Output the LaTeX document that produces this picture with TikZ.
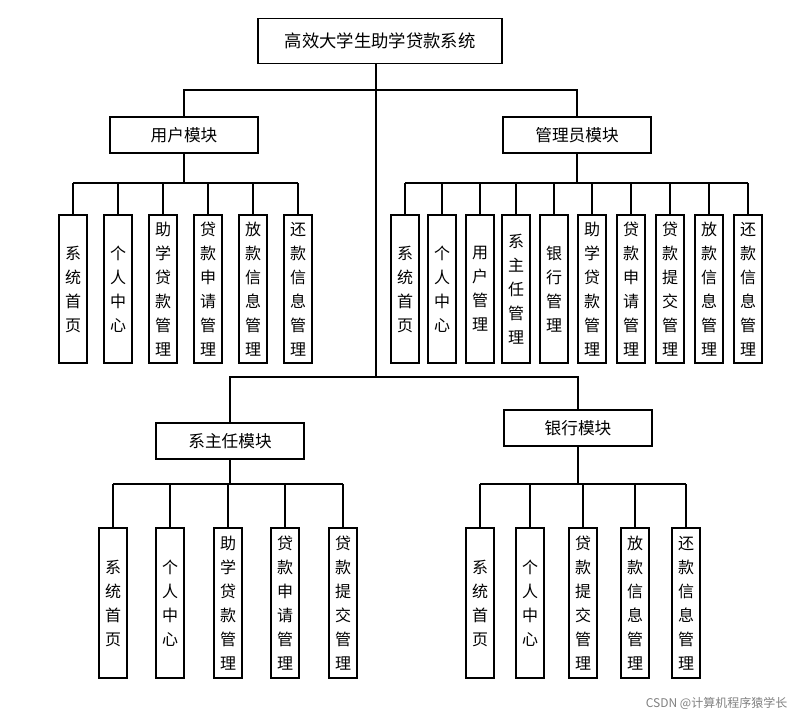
\documentclass[tikz,border=0pt]{standalone}
\usepackage{fontspec}
\newfontfamily\cjk{Noto Sans CJK SC}
\begin{document}
\begin{tikzpicture}[x=0.75pt,y=-0.75pt,
  every node/.style={font=\cjk},
  hb/.style={draw,thick,minimum width=111pt,minimum height=27pt,inner sep=0pt,font=\cjk\fontsize{12.5pt}{15pt}\selectfont},
  vb/.style={draw,thick,minimum width=21pt,minimum height=111pt,inner sep=0pt,align=center,font=\cjk\fontsize{12pt}{18pt}\selectfont},
  vc/.style={vb,minimum height=112.5pt},
  ln/.style={thick}]
\useasboundingbox (0,0) rectangle (799,717);
\node[hb,minimum width=183pt,minimum height=34pt,font=\cjk\fontsize{13pt}{15pt}\selectfont] (root) at (380,41) {高效大学生助学贷款系统};
\node[hb] (u) at (184,135) {用户模块};
\node[hb] (m) at (577,135) {管理员模块};
\node[hb] (s) at (230,441) {系主任模块};
\node[hb] (b) at (578,428) {银行模块};
\coordinate (jA) at (376,90);
\coordinate (jB) at (376,377);
\draw[ln] (root.south -| jA) -- (jB);
\draw[ln] (u.north) |- (jA) -| (m.north);
\draw[ln] (s.north) |- (jB) -| (b.north);
% user children
\coordinate (hU) at (0,183);
\foreach \n/\x/\t in {u1/73/系\\统\\首\\页, u2/118/个\\人\\中\\心, u3/163/助\\学\\贷\\款\\管\\理, u4/208/贷\\款\\申\\请\\管\\理, u5/253/放\\款\\信\\息\\管\\理, u6/298/还\\款\\信\\息\\管\\理}{
  \node[vb] (\n) at (\x,289) {\t};
  \draw[ln] (\n.north) -- (\n.north |- hU);}
\draw[ln] (u1.north |- hU) -- (u6.north |- hU);
\draw[ln] (u.south) -- (u.south |- hU);
% manager children
\foreach \n/\x/\t in {m1/405/系\\统\\首\\页, m2/442/个\\人\\中\\心, m3/480/用\\户\\管\\理, m4/516/系\\主\\任\\管\\理, m5/554/银\\行\\管\\理, m6/592/助\\学\\贷\\款\\管\\理, m7/631/贷\\款\\申\\请\\管\\理, m8/670/贷\\款\\提\\交\\管\\理, m9/709/放\\款\\信\\息\\管\\理, m10/748/还\\款\\信\\息\\管\\理}{
  \node[vb] (\n) at (\x,289) {\t};
  \draw[ln] (\n.north) -- (\n.north |- hU);}
\draw[ln] (m1.north |- hU) -- (m10.north |- hU);
\draw[ln] (m.south) -- (m.south |- hU);
% dept children
\coordinate (hS) at (0,484);
\foreach \n/\x/\t in {s1/113/系\\统\\首\\页, s2/170/个\\人\\中\\心, s3/228/助\\学\\贷\\款\\管\\理, s4/285/贷\\款\\申\\请\\管\\理, s5/343/贷\\款\\提\\交\\管\\理}{
  \node[vc] (\n) at (\x,603) {\t};
  \draw[ln] (\n.north) -- (\n.north |- hS);}
\draw[ln] (s1.north |- hS) -- (s5.north |- hS);
\draw[ln] (s.south) -- (s.south |- hS);
% bank children
\foreach \n/\x/\t in {b1/480/系\\统\\首\\页, b2/530/个\\人\\中\\心, b3/583/贷\\款\\提\\交\\管\\理, b4/635/放\\款\\信\\息\\管\\理, b5/686/还\\款\\信\\息\\管\\理}{
  \node[vc] (\n) at (\x,603) {\t};
  \draw[ln] (\n.north) -- (\n.north |- hS);}
\draw[ln] (b1.north |- hS) -- (b5.north |- hS);
\draw[ln] (b.south) -- (b.south |- hS);
\node[text=gray,font=\cjk\fontsize{9pt}{10pt}\selectfont,anchor=east] (wm) at (792,703) {CSDN @计算机程序猿学长};
\end{tikzpicture}
\end{document}
